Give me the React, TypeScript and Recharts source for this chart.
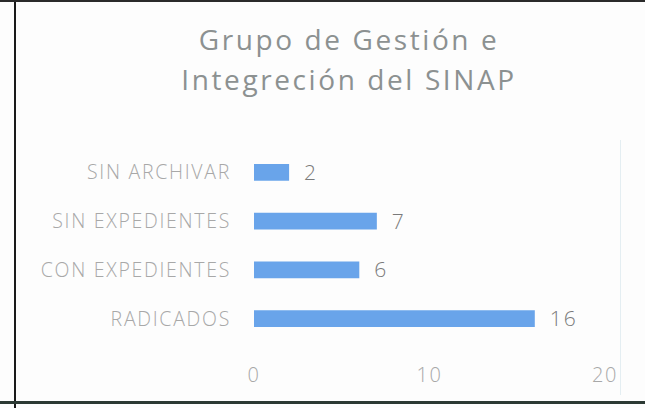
import { Bar, BarChart, LabelList, XAxis, YAxis } from 'recharts';

const categories = ['SIN ARCHIVAR', 'SIN EXPEDIENTES', 'CON EXPEDIENTES', 'RADICADOS'];
const values = [2, 7, 6, 16];
const xTicks = [0, 10, 20];
const titleLines = ['Grupo de Gestión e', 'Integreción del SINAP'];

const data = categories.map((name, i) => ({ name, value: values[i] }));

const FONT = '"Open Sans", "Liberation Sans", sans-serif';

export default function App() {
  return (
    <div style={{ position: 'absolute', left: 0, top: 0, width: 645, height: 408, background: '#fdfdfd', overflow: 'hidden' }}>
      {/* scanned page frame */}
      <div style={{ position: 'absolute', left: 14, top: 0, width: 2, height: 408, background: '#1a1a1a' }} />
      <div style={{ position: 'absolute', left: 0, top: 0, width: 645, height: 2, background: '#2a2a2a' }} />
      <div style={{ position: 'absolute', left: 0, top: 401, width: 645, height: 3, background: '#2c3a34' }} />
      <div style={{ position: 'absolute', left: 620, top: 140, width: 1, height: 255, background: '#e4eef2' }} />

      <div
        style={{
          position: 'absolute',
          left: 0,
          top: 19,
          width: 698,
          textAlign: 'center',
          fontFamily: FONT,
          fontSize: 28,
          letterSpacing: 2.6,
          lineHeight: '40px',
          color: '#8c9191',
        }}
      >
        {titleLines.map((t) => (
          <div key={t}>{t}</div>
        ))}
      </div>

      <BarChart
        width={645}
        height={408}
        data={data}
        layout="vertical"
        margin={{ top: 148, right: 40, bottom: 15, left: 0 }}
        barCategoryGap="67%"
        style={{ position: 'absolute', left: 0, top: 0 }}
      >
        <XAxis
          type="number"
          domain={[0, 20]}
          ticks={xTicks}
          axisLine={false}
          tickLine={false}
          tickSize={0}
          tickMargin={25}
          height={50}
          tick={{ fill: '#a8a8a8', fontSize: 20, fontFamily: FONT, fontWeight: 300, letterSpacing: 1.5 }}
        />
        <YAxis
          type="category"
          dataKey="name"
          width={254}
          axisLine={false}
          tickLine={false}
          tickSize={0}
          tickMargin={23}
          tick={{ fill: '#a8a8a8', fontSize: 19.5, fontFamily: FONT, fontWeight: 300, letterSpacing: 1.7 }}
        />
        <Bar dataKey="value" fill="#69a4ea" isAnimationActive={false}>
          <LabelList
            dataKey="value"
            position="right"
            offset={15}
            style={{ fill: '#7a7a7a', fontSize: 21, fontFamily: FONT, fontWeight: 300, letterSpacing: 2 }}
          />
        </Bar>
      </BarChart>
    </div>
  );
}
